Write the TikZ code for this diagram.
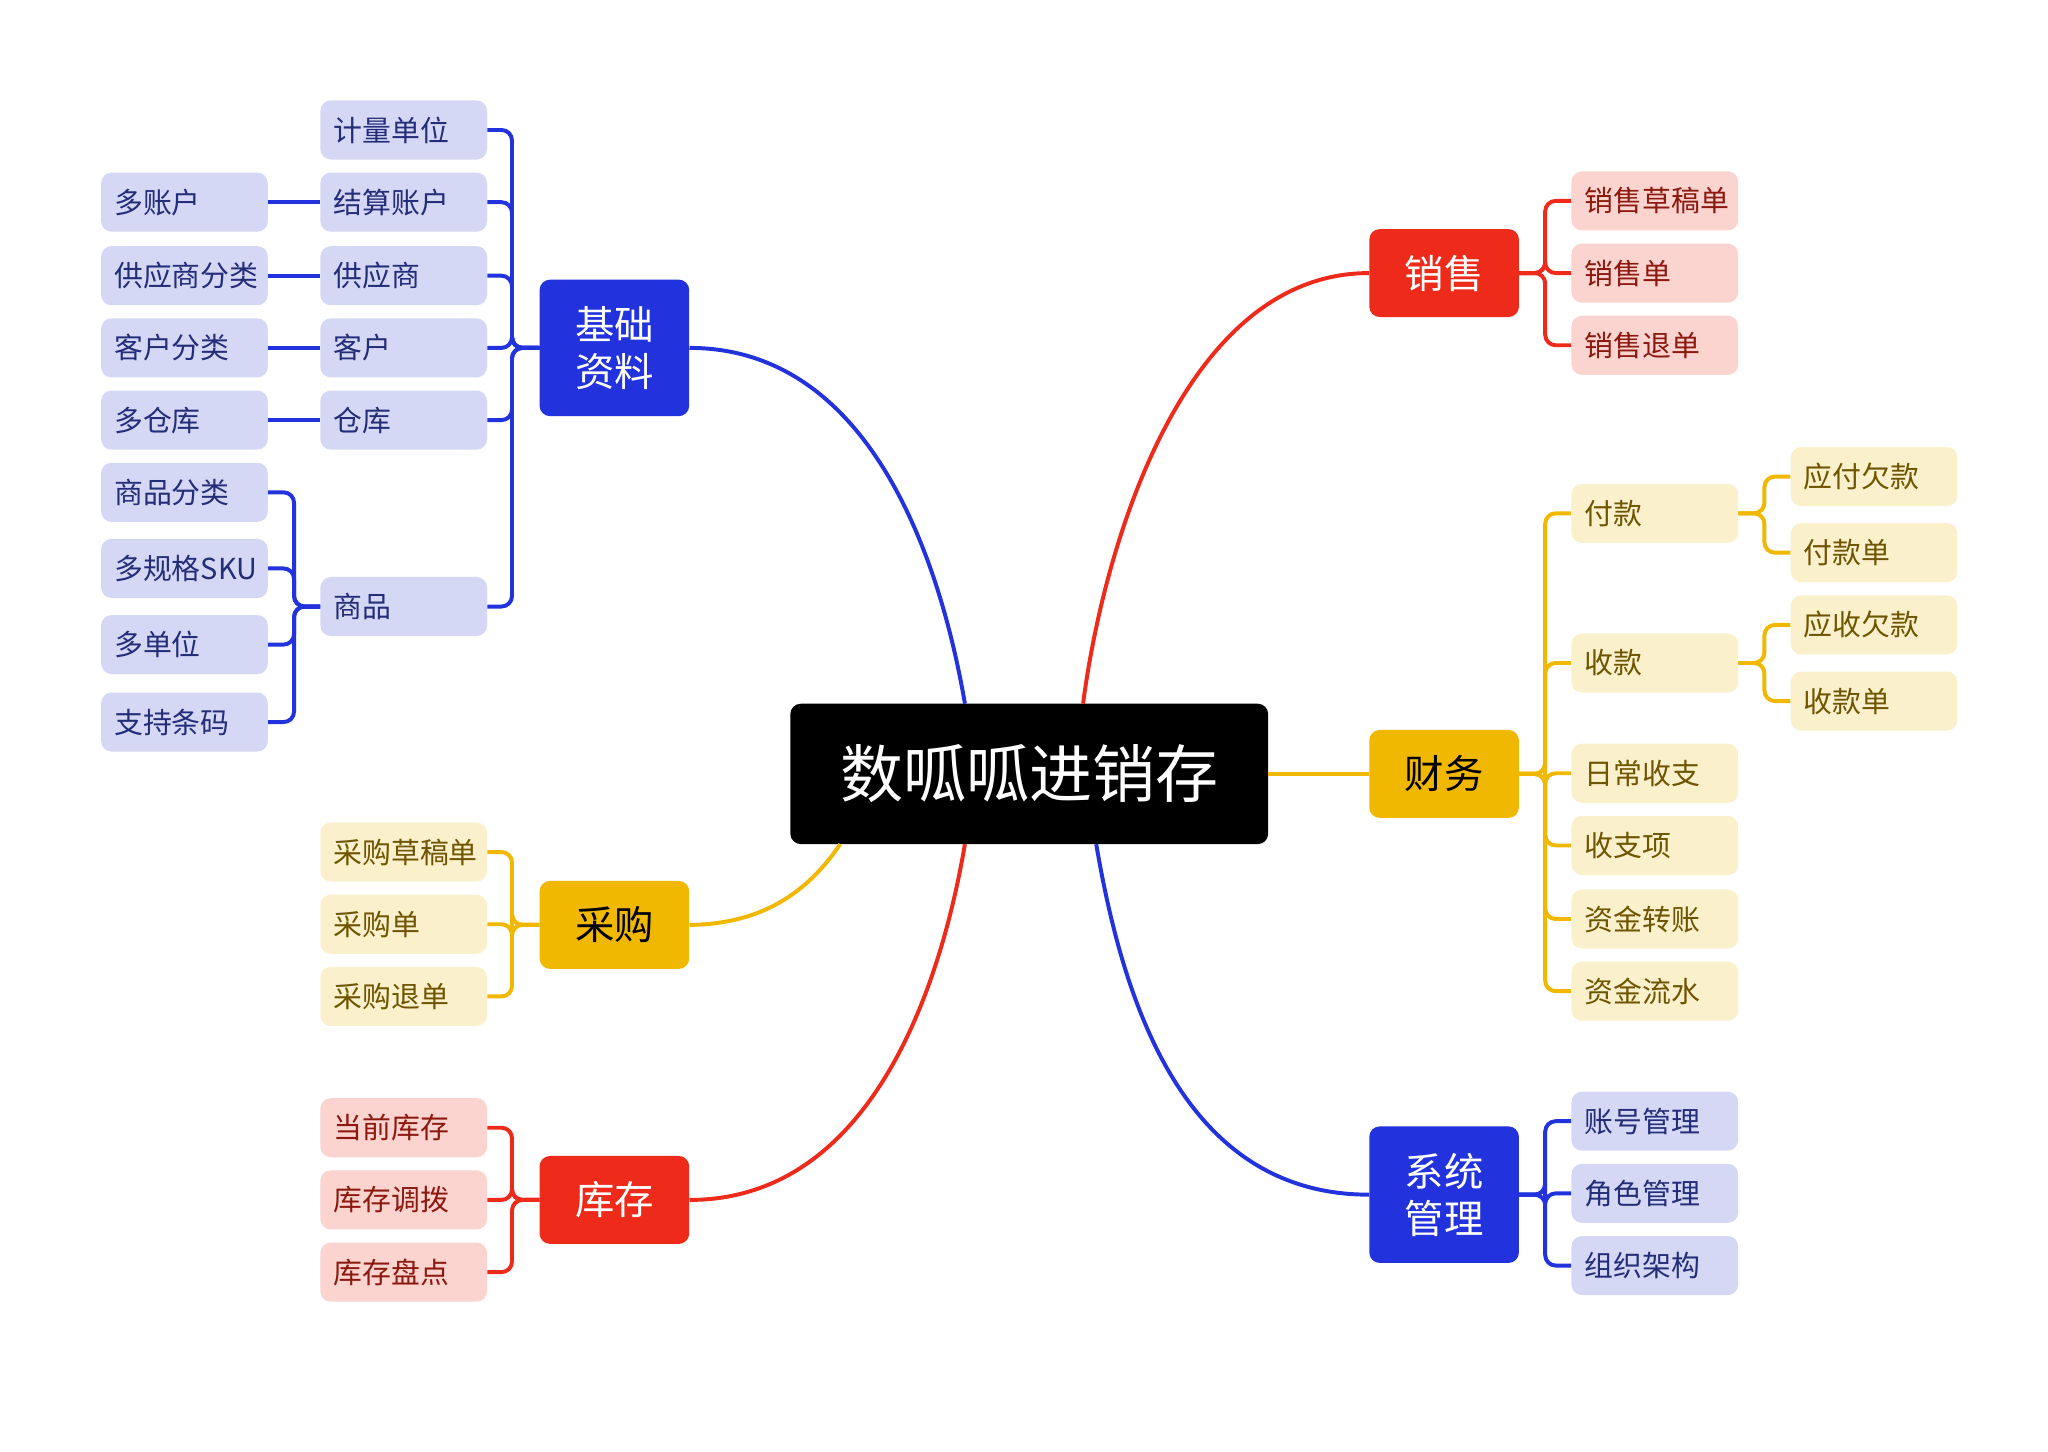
\documentclass[tikz,border=0pt]{standalone}
\usepackage{fontspec}
\setmainfont{Noto Sans CJK SC}
\begin{document}
\begin{tikzpicture}[x=1pt,y=-1pt,
  lb/.style={fill={rgb,255:red,213;green,216;blue,245},text={rgb,255:red,35;green,45;blue,120}},
  ly/.style={fill={rgb,255:red,251;green,240;blue,204},text={rgb,255:red,110;green,85;blue,0}},
  lr/.style={fill={rgb,255:red,251;green,211;blue,207},text={rgb,255:red,140;green,25;blue,15}},
  leaf/.style={rounded corners=8,minimum height=45,text width=107,align=left,inner xsep=10,font=\fontsize{22}{24}\selectfont},
  mb/.style={rounded corners=8,minimum width=114,font=\fontsize{30}{36}\selectfont,align=center},
  cB/.style={draw={rgb,255:red,34;green,51;blue,221},line width=3},
  cY/.style={draw={rgb,255:red,240;green,184;blue,0},line width=3},
  cR/.style={draw={rgb,255:red,238;green,42;blue,26},line width=3},
  br/.style={rounded corners=8}]
\useasboundingbox[fill=white] (0,0) rectangle (1560,1106);
% central
\node[fill=black,text=white,rounded corners=8,minimum width=364,minimum height=107,font=\fontsize{48}{56}\selectfont] (c) at (784,589.5) {数呱呱进销存};
\node[mb,fill={rgb,255:red,34;green,51;blue,221},text=white,minimum height=104] (jc) at (468,265) {基础\\资料};
\node[mb,fill={rgb,255:red,240;green,184;blue,0},text=black,minimum height=67] (cg) at (468,704.5) {采购};
\node[mb,fill={rgb,255:red,238;green,42;blue,26},text=white,minimum height=67] (kc) at (468,914) {库存};
\node[mb,fill={rgb,255:red,238;green,42;blue,26},text=white,minimum height=67] (xs) at (1100,208) {销售};
\node[mb,fill={rgb,255:red,240;green,184;blue,0},text=black,minimum height=67] (cw) at (1100,589.5) {财务};
\node[mb,fill={rgb,255:red,34;green,51;blue,221},text=white,minimum height=104] (xt) at (1100,910) {系统\\管理};
% main curves
\draw[cB] (jc.east) .. controls (660,265) and (715,420) .. (735,536);
\draw[cR] (xs.west) .. controls (900,208) and (840,420) .. (825,536);
\draw[cY] (cg.east) .. controls (580,704) and (615,680) .. (640,643);
\draw[cR] (kc.east) .. controls (660,914) and (715,760) .. (735,643);
\draw[cB] (xt.west) .. controls (900,910) and (855,760) .. (835,643);
\draw[cY] (c.east) -- (cw.west);
% 基础资料 leaves
\foreach \n/\t/\y in {a1/计量单位/99,a2/结算账户/154,a3/供应商/210,a4/客户/265,a5/仓库/320,a6/商品/462}{
  \node[leaf,lb] (\n) at (307.5,\y) {\t};
  \draw[cB,br] (jc.west) -- (390,265) |- (\n.east);}
\foreach \n/\t/\y/\p in {b2/多账户/154/a2,b3/供应商分类/210/a3,b4/客户分类/265/a4,b5/多仓库/320/a5}{
  \node[leaf,lb] (\n) at (140.5,\y) {\t};
  \draw[cB] (\n.east) -- (\p.west);}
\foreach \n/\t/\y in {g1/商品分类/375,g2/多规格SKU/433,g3/多单位/491,g4/支持条码/550}{
  \node[leaf,lb] (\n) at (140.5,\y) {\t};
  \draw[cB,br] (a6.west) -- (224,462) |- (\n.east);}
% 采购
\foreach \n/\t/\y in {p1/采购草稿单/649,p2/采购单/704,p3/采购退单/759}{
  \node[leaf,ly] (\n) at (307.5,\y) {\t};
  \draw[cY,br] (cg.west) -- (390,704.5) |- (\n.east);}
% 库存
\foreach \n/\t/\y in {k1/当前库存/859,k2/库存调拨/914,k3/库存盘点/969}{
  \node[leaf,lr] (\n) at (307.5,\y) {\t};
  \draw[cR,br] (kc.west) -- (390,914) |- (\n.east);}
% 销售
\foreach \n/\t/\y in {s1/销售草稿单/153,s2/销售单/208,s3/销售退单/263}{
  \node[leaf,lr] (\n) at (1260.5,\y) {\t};
  \draw[cR,br] (xs.east) -- (1177,208) |- (\n.west);}
% 财务
\foreach \n/\t/\y in {f1/付款/391,f2/收款/505,f3/日常收支/589,f4/收支项/644,f5/资金转账/700,f6/资金流水/755}{
  \node[leaf,ly] (\n) at (1260.5,\y) {\t};
  \draw[cY,br] (cw.east) -- (1177,589.5) |- (\n.west);}
\foreach \n/\t/\y in {h1/应付欠款/363,h2/付款单/421}{
  \node[leaf,ly] (\n) at (1427.5,\y) {\t};
  \draw[cY,br] (f1.east) -- (1344,391) |- (\n.west);}
\foreach \n/\t/\y in {h3/应收欠款/476,h4/收款单/534}{
  \node[leaf,ly] (\n) at (1427.5,\y) {\t};
  \draw[cY,br] (f2.east) -- (1344,505) |- (\n.west);}
% 系统管理
\foreach \n/\t/\y in {x1/账号管理/854,x2/角色管理/909,x3/组织架构/964}{
  \node[leaf,lb] (\n) at (1260.5,\y) {\t};
  \draw[cB,br] (xt.east) -- (1177,910) |- (\n.west);}
\end{tikzpicture}
\end{document}
